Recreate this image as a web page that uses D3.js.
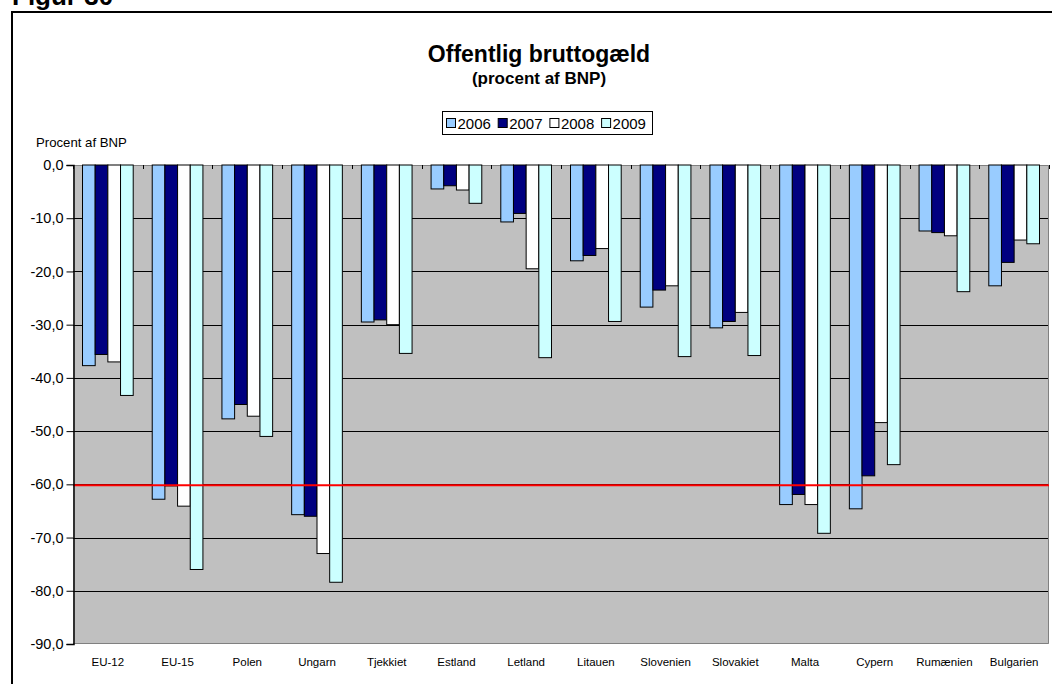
<!DOCTYPE html>
<html><head><meta charset="utf-8">
<script src="https://cdn.jsdelivr.net/npm/d3@7"></script>
<style>
html,body{margin:0;padding:0;background:#fff;}
svg{display:block;font-family:Arial,'Liberation Sans',sans-serif;}
</style></head>
<body>
<svg id="c" width="1052" height="684"></svg>
<script>
const categories = ["EU-12","EU-15","Polen","Ungarn","Tjekkiet","Estland","Letland","Litauen","Slovenien","Slovakiet","Malta","Cypern","Rumænien","Bulgarien"];
const years = ["2006","2007","2008","2009"];
const v2006 = [-37.7,-62.8,-47.7,-65.7,-29.5,-4.5,-10.7,-18.0,-26.7,-30.6,-63.8,-64.6,-12.4,-22.7];
const v2007 = [-35.6,-60.3,-45.0,-66.0,-29.1,-3.9,-9.1,-17.0,-23.5,-29.4,-61.9,-58.4,-12.7,-18.3];
const v2008 = [-37.0,-64.1,-47.2,-73.0,-30.0,-4.7,-19.5,-15.7,-22.7,-27.7,-63.8,-48.4,-13.3,-14.1];
const v2009 = [-43.3,-76.0,-51.0,-78.4,-35.4,-7.2,-36.2,-29.4,-36.0,-35.8,-69.2,-56.3,-23.8,-14.8];
const seriesValues = [v2006, v2007, v2008, v2009];
const yTicks = [0,-10,-20,-30,-40,-50,-60,-70,-80,-90];
const referenceLine = -60;
const colors = ["#99CCFF","#000080","#FFFFFF","#CCFFFF"];

const svg = d3.select("#c");
const L = 73, R = 1049, T = 165, B = 644;

// figure caption + frame
svg.append("text").attr("x",12).attr("y",4.5).attr("font-size",26).attr("font-weight","bold").text("Figur 30");
svg.append("rect").attr("x",12).attr("y",12).attr("width",1050).attr("height",700)
  .attr("fill","none").attr("stroke","#000").attr("stroke-width",2);

// titles
svg.append("text").attr("x",539).attr("y",62).attr("text-anchor","middle")
  .attr("font-size",23).attr("font-weight","bold").text("Offentlig bruttogæld");
svg.append("text").attr("x",539).attr("y",84).attr("text-anchor","middle")
  .attr("font-size",17).attr("font-weight","bold").text("(procent af BNP)");

// legend
const lg = svg.append("g");
lg.append("rect").attr("x",442.5).attr("y",111.5).attr("width",210).attr("height",23)
  .attr("fill","#fff").attr("stroke","#000").attr("stroke-width",1);
years.forEach((y,i)=>{
  const x0 = 446.5 + i*51.7;
  lg.append("rect").attr("x",x0).attr("y",118.5).attr("width",9).attr("height",9)
    .attr("fill",colors[i]).attr("stroke","#000").attr("stroke-width",1);
  lg.append("text").attr("x",x0+11).attr("y",129).attr("font-size",15).text(y);
});

// scales
const x0 = d3.scaleBand().domain(categories).range([L,R]).paddingInner(0).paddingOuter(0);
const x1 = d3.scaleBand().domain(years).range([0,x0.bandwidth()]).paddingInner(0).paddingOuter(0.75);
const y = d3.scaleLinear().domain([-90,0]).range([B,T]);

// plot background
svg.append("rect").attr("x",L).attr("y",T).attr("width",R-L).attr("height",B-T).attr("fill","#C0C0C0");

// gridlines
svg.append("g").selectAll("line").data(yTicks.filter(d=>d!==0 && d!==-90)).join("line")
  .attr("x1",L).attr("x2",R).attr("y1",d=>Math.round(y(d))+0.5).attr("y2",d=>Math.round(y(d))+0.5)
  .attr("stroke","#000").attr("stroke-width",1);

// plot border top/right/bottom gray
svg.append("path").attr("d",`M${L},${T+0.5}H${R-0.5}V${B-0.5}H${L}`)
  .attr("fill","none").attr("stroke","#808080").attr("stroke-width",1);

// category ticks at top
svg.append("g").selectAll("line").data(d3.range(categories.length+1)).join("line")
  .attr("x1",i=>Math.round(L + i*x0.step())+0.5).attr("x2",i=>Math.round(L + i*x0.step())+0.5)
  .attr("y1",T).attr("y2",T+4).attr("stroke","#000");

// bars
const g = svg.append("g");
categories.forEach((c,ci)=>{
  years.forEach((yr,si)=>{
    const v = seriesValues[si][ci];
    g.append("rect")
      .attr("x",x0(c)+x1(yr)).attr("y",y(0)).attr("width",x1.bandwidth()).attr("height",y(v)-y(0))
      .attr("fill",colors[si]).attr("stroke","#000").attr("stroke-width",1);
  });
});

// reference line
svg.append("line").attr("x1",L).attr("x2",R).attr("y1",y(referenceLine)+1).attr("y2",y(referenceLine)+1)
  .attr("stroke","#FF0000").attr("stroke-width",2);

// y axis
const yAxis = d3.axisLeft(y).tickValues(yTicks).tickSize(7).tickPadding(3)
  .tickFormat(d=>d3.format(".1f")(d).replace(".",",").replace("−","-"));
const ya = svg.append("g").attr("transform",`translate(${L+0.5},0)`).call(yAxis);
ya.select(".domain").attr("stroke","#000").attr("stroke-width",1.5);
ya.selectAll("text").attr("font-size",14.5).attr("fill","#000").attr("font-family","Arial,'Liberation Sans',sans-serif");

// x labels
svg.append("g").selectAll("text").data(categories).join("text")
  .attr("x",d=>x0(d)+x0.bandwidth()/2).attr("y",666).attr("text-anchor","middle")
  .attr("font-size",11.5).text(d=>d);

// y axis title
svg.append("text").attr("x",36).attr("y",147).attr("font-size",13.2).text("Procent af BNP");
</script>
</body></html>
